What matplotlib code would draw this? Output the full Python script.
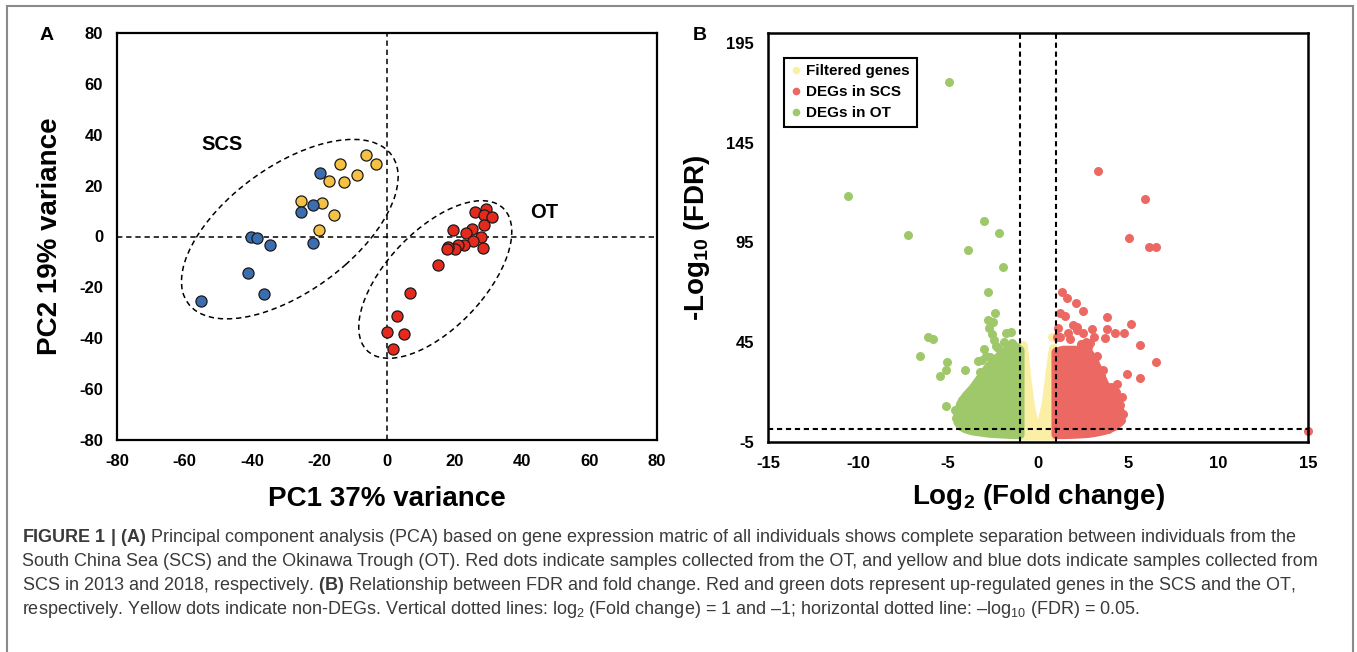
import matplotlib
matplotlib.use("Agg")
import matplotlib.pyplot as plt
from matplotlib.lines import Line2D
from matplotlib.patches import Ellipse, Rectangle

plt.rcParams["font.family"] = ["Liberation Sans", "DejaVu Sans"]
plt.rcParams["axes.unicode_minus"] = False
plt.rcParams["mathtext.fontset"] = "custom"
plt.rcParams["mathtext.rm"] = "Liberation Sans"
plt.rcParams["mathtext.bf"] = "Liberation Sans:bold"
plt.rcParams["mathtext.it"] = "Liberation Sans:italic"

# ---- panel A: PCA scores ----
scs2013_pc1 = [-6.1, -3.3, -13.9, -8.9, -17.1, -12.8, -25.5, -19.2, -15.6, -20.1]
scs2013_pc2 = [32.0, 28.6, 28.5, 24.2, 21.7, 21.3, 14.0, 13.3, 8.6, 2.4]
scs2018_pc1 = [-19.9, -21.8, -25.5, -21.8, -40.3, -38.4, -34.8, -41.3, -36.5, -55.1]
scs2018_pc2 = [24.8, 12.5, 9.5, -2.7, -0.2, -0.7, -3.3, -14.2, -22.6, -25.2]
ot_pc1 = [26.1, 29.3, 28.8, 31.0, 28.8, 19.7, 25.2, 23.4, 27.9, 25.4, 22.9,
          21.1, 28.4, 20.1, 18.2, 17.7, 15.0, 6.7, 3.0, -0.1, 5.0, 1.7]
ot_pc2 = [9.8, 10.7, 8.5, 7.5, 4.5, 2.6, 2.9, 1.5, -0.3, -1.6, -3.3,
          -3.3, -4.4, -4.8, -4.3, -4.9, -11.2, -22.1, -31.2, -37.4, -38.3, -44.1]

# group ellipses: centre x, centre y, width, height, angle (data units)
scs_ellipse = (-28.8, 2.9, 85.0, 43.3, 49.6)
ot_ellipse = (14.3, -16.9, 69.8, 32.0, 58.8)

# ---- panel B: volcano plot ----
# dense clouds given as upper / lower envelopes
ot_cloud_x = [-4.45, -4.3, -4.0, -3.6, -3.2, -2.8, -2.4, -2.0, -1.6, -1.3, -1.0]
ot_cloud_top = [9, 14, 18, 22, 27, 32, 36, 39, 42, 43, 41]
ot_cloud_bot = [5, 3, 1.5, 0.5, 0, -0.5, -0.8, -1.0, -1.2, -1.3, -1.3]
scs_cloud_x = [1.0, 1.4, 1.8, 2.3, 2.8, 3.1, 3.4, 3.7, 4.0, 4.3, 4.55]
scs_cloud_top = [40, 41, 41, 41, 40, 36, 30, 24, 20, 16, 11]
scs_cloud_bot = [-1.3, -1.3, -1.2, -1.0, -0.7, -0.3, 0.2, 0.8, 1.8, 3.0, 5.0]
filt_x = [-0.95, -0.95, -0.8, -0.6, -0.4, -0.2, 0.2, 0.45, 0.65, 0.82, 0.95, 0.95]
filt_y = [-2.0, 38, 42, 25, 12, 4, 4, 14, 28, 40, 36, -2.0]

# individual genes outside the clouds
ot_fc = [-4.92, -10.58, -7.25, -3.02, -2.16, -3.89, -1.92, -2.78, -2.40, -2.76,
         -6.12, -5.83, -6.55, -5.04, -5.09, -5.42, -4.08, -5.11, -1.8, -1.49,
         -2.98, -3.36, -1.44, -1.68, -2.04, -2.52, -2.76, -3.0, -3.36, -3.6,
         -4.08, -4.37, -2.7, -2.55, -2.45, -2.35, -2.5, -4.2, -3.12, -2.65,
         -4.6, -4.55, -4.25, -3.85, -3.75, -3.45, -3.25, -2.9, -2.2, -1.9]
ot_fdr = [175.3, 118.3, 98.9, 105.9, 99.6, 91.2, 82.5, 70.0, 59.9, 56.1,
          47.4, 46.7, 38.0, 35.1, 31.3, 28.0, 31.0, 13.0, 49.4, 49.9,
          41.8, 35.5, 44.4, 39.3, 36.8, 32.6, 29.3, 25.1, 20.9, 16.7,
          14.2, 11.7, 52.0, 49.0, 46.0, 43.0, 55.0, 15.9, 36.0, 37.4,
          11.0, 7.0, 4.0, 2.0, 20.0, 24.0, 30.0, 38.0, 42.0, 45.0]
scs_fc = [3.31, 5.93, 5.06, 6.17, 6.53, 15.0, 6.53, 5.16, 3.84, 3.84,
          4.27, 4.8, 5.64, 3.0, 3.72, 4.92, 5.64, 1.32, 1.61, 2.11,
          2.52, 1.2, 1.49, 1.08, 1.8, 1.92, 2.16, 3.12, 4.08, 4.32,
          4.68, 4.56, 2.76, 3.12, 2.64, 1.2, 1.68, 2.16, 2.52, 2.88,
          4.7, 4.6, 4.3, 3.9, 3.5, 3.3, 3.6, 4.4, 2.4, 1.1]
scs_fdr = [130.7, 116.7, 97.2, 92.6, 92.6, 0.3, 35.1, 53.9, 57.8, 51.4,
           49.4, 49.4, 43.5, 51.4, 47.2, 29.0, 27.3, 70.0, 67.3, 64.8,
           60.6, 59.9, 58.1, 47.4, 46.5, 53.6, 52.7, 34.3, 22.6, 20.1,
           17.6, 13.4, 42.7, 47.7, 45.2, 47.7, 49.4, 51.0, 49.4, 44.4,
           9.0, 6.0, 3.5, 1.5, 28.0, 38.0, 31.0, 24.0, 44.0, 52.0]
filt_fc = [-0.84, -0.84, 0.77, 0.77, -0.9, 0.85]
filt_fdr = [43.5, 40.0, 47.7, 32.6, 30.0, 42.0]

C_YEL, C_BLU, C_RED = "#F4C144", "#3B6DB0", "#E6291D"
C_FILT, C_UP_SCS, C_UP_OT = "#FBEFA6", "#EB6962", "#9EC869"

fig = plt.figure(figsize=(13.57, 6.52), dpi=100)
W, H = 1357, 652


def bold_ticks(ax, size):
    ax.tick_params(length=0, pad=10, labelsize=size)
    for lbl in ax.get_xticklabels() + ax.get_yticklabels():
        lbl.set_fontweight("bold")


# ---------------- panel A ----------------
axA = fig.add_axes([117 / W, 1 - 440 / H, 540 / W, 407 / H])
axA.set_xlim(-80, 80)
axA.set_ylim(-80, 80)
axA.set_xticks(range(-80, 81, 20))
axA.set_yticks(range(-80, 81, 20))
bold_ticks(axA, 12)
for sp in axA.spines.values():
    sp.set_linewidth(1.6)

dash = (0, (3.5, 2.5))
axA.axvline(0, color="black", lw=1.1, ls=dash, zorder=1)
axA.axhline(0, color="black", lw=1.1, ls=dash, zorder=1)
for cx, cy, w, h, ang in (scs_ellipse, ot_ellipse):
    axA.add_patch(Ellipse((cx, cy), w, h, angle=ang, fill=False,
                          ec="black", lw=1.1, ls=dash, zorder=2))

for xs, ys, c in ((scs2013_pc1, scs2013_pc2, C_YEL),
                  (scs2018_pc1, scs2018_pc2, C_BLU),
                  (ot_pc1, ot_pc2, C_RED)):
    axA.scatter(xs, ys, s=64, c=c, edgecolors="#1a1a1a", linewidths=0.9, zorder=3)

axA.text(-49, 36, "SCS", fontsize=14.5, fontweight="bold", ha="center", va="center")
axA.text(46.5, 9.5, "OT", fontsize=14.5, fontweight="bold", ha="center", va="center")
axA.set_xlabel("PC1 37% variance", fontsize=20, fontweight="bold", labelpad=12)
axA.set_ylabel("PC2 19% variance", fontsize=20, fontweight="bold", labelpad=12)

# ---------------- panel B ----------------
axB = fig.add_axes([768 / W, 1 - 442 / H, 540 / W, 409 / H])
axB.set_xlim(-15, 15)
axB.set_ylim(-5, 200)
axB.set_xticks(range(-15, 16, 5))
axB.set_yticks(range(-5, 196, 50))
bold_ticks(axB, 12)
for sp in axB.spines.values():
    sp.set_linewidth(1.8)

DOT = 42
axB.fill(filt_x, filt_y, color=C_FILT, lw=6.5, joinstyle="round", zorder=1)
axB.scatter(filt_fc, filt_fdr, s=DOT, c=C_FILT, lw=0, zorder=1)
for xs, top, bot, c in ((ot_cloud_x, ot_cloud_top, ot_cloud_bot, C_UP_OT),
                        (scs_cloud_x, scs_cloud_top, scs_cloud_bot, C_UP_SCS)):
    axB.fill(xs + xs[::-1], top + bot[::-1], color=c, lw=6.5,
             joinstyle="round", zorder=2)
axB.scatter(ot_fc, ot_fdr, s=DOT, c=C_UP_OT, lw=0, zorder=2)
axB.scatter(scs_fc, scs_fdr, s=DOT, c=C_UP_SCS, lw=0, zorder=2, clip_on=False)

dashB = (0, (2.5, 1.8))
axB.axvline(-1, color="black", lw=1.5, ls=dashB, zorder=4)
axB.axvline(1, color="black", lw=1.5, ls=dashB, zorder=4)
axB.axhline(1.3, color="black", lw=1.5, ls=dashB, zorder=4)

handles = [Line2D([], [], ls="none", marker="o", ms=5.5, mfc=c, mec="none")
           for c in (C_FILT, C_UP_SCS, C_UP_OT)]
leg = axB.legend(handles, ["Filtered genes", "DEGs in SCS", "DEGs in OT"],
                 loc="upper left", bbox_to_anchor=(0.03, 0.94), borderaxespad=0,
                 fancybox=False, framealpha=1, edgecolor="black",
                 prop={"weight": "bold", "size": 11}, handlelength=0.7,
                 handletextpad=0.3, borderpad=0.45, labelspacing=0.45)
leg.get_frame().set_linewidth(1.5)

axB.set_xlabel(r"Log$_{\mathbf{2}}$ (Fold change)", fontsize=20,
               fontweight="bold", labelpad=8)
axB.set_ylabel(r"-Log$_{\mathbf{10}}$ (FDR)", fontsize=20,
               fontweight="bold", labelpad=10)

fig.text(47 / W, 1 - 35 / H, "A", fontsize=14, fontweight="bold", ha="center", va="center")
fig.text(700 / W, 1 - 35 / H, "B", fontsize=14, fontweight="bold", ha="center", va="center")

# ---------------- caption ----------------
caption = [
    r"$\mathbf{FIGURE\ 1\ |\ (A)}$ Principal component analysis (PCA) based on gene "
    "expression matric of all individuals shows complete separation between individuals from the",
    "South China Sea (SCS) and the Okinawa Trough (OT). Red dots indicate samples collected "
    "from the OT, and yellow and blue dots indicate samples collected from",
    r"SCS in 2013 and 2018, respectively. $\mathbf{(B)}$ Relationship between FDR and fold "
    "change. Red and green dots represent up-regulated genes in the SCS and the OT,",
    r"respectively. Yellow dots indicate non-DEGs. Vertical dotted lines: log$_\mathrm{2}$ "
    r"(Fold change) = 1 and –1; horizontal dotted line: –log$_\mathrm{10}$ (FDR) = 0.05.",
]
for i, line in enumerate(caption):
    fig.text(22 / W, 1 - (537 + 24 * i) / H, line, fontsize=13, color="#3a3a3a",
             ha="left", va="center")

fig.add_artist(Rectangle((7 / W, -0.05), (1353 - 7) / W, 1 - 6 / H + 0.05,
                         transform=fig.transFigure, fill=False, ec="#8a8a8a", lw=1.5))

fig.savefig("out.png", dpi=100)
